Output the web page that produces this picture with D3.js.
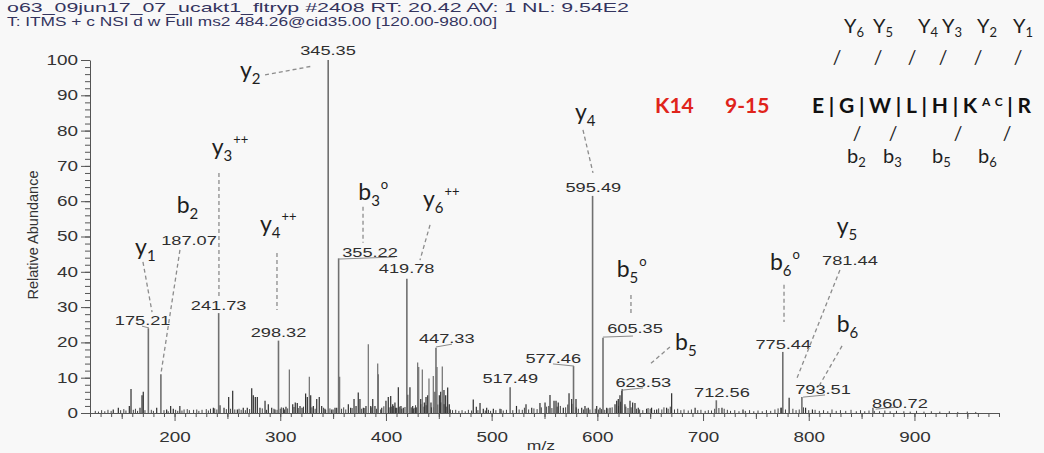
<!DOCTYPE html>
<html>
<head>
<meta charset="utf-8">
<script src="https://cdn.jsdelivr.net/npm/d3@7"></script>
<style>
  body { margin: 0; background: #f8f8f8; }
  svg { display: block; }
</style>
</head>
<body>
<div id="chart"></div>
<script>
// header lines of the scan
var headerLines = [
    "o63_09jun17_07_ucakt1_fltryp #2408   RT: 20.42   AV: 1   NL: 9.54E2",
    "T: ITMS + c NSI d w Full ms2 484.26@cid35.00 [120.00-980.00]"
];

var xTicks = [200, 300, 400, 500, 600, 700, 800, 900];
var yTicks = [0, 10, 20, 30, 40, 50, 60, 70, 80, 90, 100];

// labelled peaks [m/z, relative abundance]
var labeledPeaks = [[175.21, 24], [187.07, 11], [241.73, 28.3], [298.32, 20.5], [345.35, 100],
    [355.22, 43.8], [419.78, 38], [447.33, 18.5], [517.49, 7.3], [577.46, 13.3], [595.49, 61.5],
    [605.35, 21.3], [623.53, 6.8], [712.56, 3.6], [775.44, 17.3], [793.51, 4.5], [860.72, 1.5]];

// unlabelled peaks
var minorPeaks = [[142, 1], [146.8, 1.5], [157.2, 2], [158.8, 6.8], [167.3, 1.5], [169.2, 5], [170.4, 6],
    [183.1, 1.5], [192.5, 1], [196.3, 2], [198.8, 1.2], [205, 2], [236.7, 1.5], [243, 2.2], [246.8, 1.5],
    [251.2, 4.5], [255, 6.3], [259.4, 1], [265, 1.5], [268.8, 1.5], [273, 7], [274.5, 5], [276.4, 4.5],
    [278.3, 4.5], [280.8, 1.5], [285.6, 3.5], [288.7, 2.5], [291.9, 1.5], [295, 1], [302.9, 1.5],
    [305.4, 1.8], [308.6, 12.3], [311.8, 2.5], [314.2, 3], [316.1, 2.8], [318.7, 2], [320.6, 1.5],
    [324, 5.5], [325.6, 4.5], [327.5, 10.3], [328.8, 5], [331.3, 2], [334.5, 4], [336.9, 4.5], [339.2, 2],
    [342.3, 1.2], [348.7, 1], [351.8, 1.5], [353.4, 1.5], [356.2, 10.3], [364.4, 2.5], [366.6, 1.5],
    [369.8, 4], [371.7, 2], [373.8, 5.8], [375.4, 4], [378.6, 1.5], [381.1, 2], [383.3, 19.5], [385.6, 2],
    [387.5, 4], [389.6, 2], [392.2, 14], [392.8, 11], [396, 1.5], [400, 3.5], [402.2, 4.5], [404.5, 4.8],
    [406.4, 2.5], [408.5, 3], [410.2, 1.5], [411.7, 7.3], [414.2, 2], [416.4, 1.5], [420.6, 5.2],
    [422.7, 7.3], [425.3, 2], [427.5, 1.5], [430, 14.3], [431, 13], [432.9, 4], [434.4, 12.3], [436.3, 3],
    [437.9, 4.5], [439.5, 5], [440.7, 9.8], [442.6, 3], [444.8, 10.5], [446.4, 6], [448.3, 13], [450.5, 5],
    [451.8, 6], [453.3, 13.2], [454.9, 6.5], [456.5, 5], [458.4, 7.2], [459.9, 2.5], [482.6, 3.8],
    [485.5, 1.8], [489, 2.8], [492.1, 1.2], [495.3, 1.5], [501.6, 1.2], [507.9, 1.2], [523.5, 2],
    [532.5, 2.5], [537.9, 1.5], [545.7, 2.8], [550.5, 3], [555.2, 5.1], [559, 3.5], [560.9, 3.5], [563, 3],
    [567.8, 1.5], [573.2, 5.6], [575.7, 4], [579.8, 4], [585.2, 1.5], [588.3, 2], [591.4, 1.5], [599.4, 2],
    [602.5, 1.5], [608.8, 1.5], [612, 1.5], [616.7, 2.5], [618.3, 3.5], [619.8, 4], [621.4, 5], [623, 6.3],
    [626.1, 2.5], [630.9, 3.5], [633.4, 3], [635.6, 2.8], [638.7, 1.5], [646.6, 1.2], [651.3, 1.5],
    [656.1, 1], [665.5, 1.5], [670.3, 5.6], [692.5, 1.5], [717.9, 1.5], [737.8, 1], [773.7, 1.5],
    [781.44, 4.3], [797, 1.5], [803.5, 1]];

// baseline noise
var noisePeaks = [[125, .6], [128, .4], [131, .8], [134, .5], [137, .9], [140, .6], [149, .8], [152, 1.1],
    [154, .7], [161, .9], [163, 1.2], [165, .6], [172, .8], [178, .9], [180, .6], [190, .8], [194, .5],
    [201, .9], [203, .6], [207, .7], [209, 1], [212, 1.1], [214, .8], [218, .9], [221, 1], [223, .6],
    [226, .9], [230, 1.1], [232, .7], [234, 1.2], [238, 1.3], [240, 1], [249, 1.1], [253, 1.2], [257, 1],
    [261, 1.2], [263, .9], [267, .8], [271, 1.1], [283, 1.3], [287, .9], [294, 1.2], [297, .9], [300, 1.2],
    [301, 1.6], [304, 1], [307, 1.3], [313, 1.7], [317, 1.4], [322, 1.8], [330, 1.6], [333, 1.2],
    [341, 1.5], [343, .9], [347, 1.3], [350, 1], [358, 1.2], [360, 1.6], [362, 1], [368, 1.4], [377, 1.2],
    [380, 1.4], [386, 1.6], [391, 1.2], [395, 1], [398, 1.9], [403, 1.6], [405, 1.8], [407, 2], [409, 1.5],
    [413, 1.8], [415, 1.2], [418, 1.7], [424, 1.6], [426, 1.3], [428, 2.2], [429, 1.6], [433, 2.5],
    [436, 1.8], [438, 2.2], [443, 1.6], [445, 1.6], [449, 2.4], [452, 3], [455, 2.5], [457, 1.8], [461, 1],
    [463, .8], [466, .9], [469, .6], [472, .8], [475, .5], [478, .9], [481, .7], [487, .8], [494, .7],
    [497, .9], [499, .6], [504, .8], [509, 1.1], [511, .7], [514, .9], [520, .8], [526, 1], [529, .9],
    [531, 1.5], [535, 1], [540, 1.3], [543, 1.1], [547, 1.6], [552, 1.8], [554, 2], [557, 1.4], [562, 1.8],
    [565, 2], [570, 1.6], [572, 2.4], [576, 2.6], [580, 1.6], [582, 1.2], [587, 1], [590, 1.3], [593, 1],
    [598, 1.2], [601, 1], [604, 1.1], [607, .9], [610, 1.3], [614, 1.6], [620, 2], [622, 3.2], [627, 1.8],
    [629, 1.4], [632, 1.6], [637, 1.2], [640, 1], [643, .8], [648, 1.4], [650, 1.2], [654, .9], [658, 1.3],
    [661, 1], [663, 1.6], [667, 1.2], [669, 1.8], [673, 1], [676, 1.2], [679, .8], [682, 1], [686, .7],
    [689, 1], [695, .8], [698, .9], [702, .6], [705, .8], [708, .7], [711, 1.2], [715, 1.4], [720, 1.2],
    [723, .9], [726, .6], [730, .8], [734, .5], [740, .6], [744, .8], [748, .5], [752, .7], [756, .5],
    [760, .8], [764, .6], [768, 1], [771, 1.3], [774, 1.5], [778, 1], [785, 1.2], [788, .8], [791, 1],
    [795, 1.6], [800, .8], [806, .9], [810, .6], [814, .8], [818, .5], [822, 1], [826, .6], [830, .8],
    [835, .6], [840, .9], [845, .5], [849, .8], [853, .5], [857, .7], [862, .6], [867, .5], [872, .7],
    [877, .5], [883, .6], [890, .5], [896, .4], [902, .6], [909, .4], [916, .5], [924, .4], [933, .5],
    [941, .3], [950, .4], [958, .3]];

// mass labels: text, m/z and abundance of the text baseline
var massLabels = [["175.21", 169.8, 24.9], ["187.07", 213.7, 47.6], ["241.73", 241.73, 29.2],
    ["298.32", 298.32, 21.5], ["345.35", 345.2, 101.4], ["355.22", 384.9, 44.3], ["419.78", 419.6, 39.6],
    ["447.33", 457.5, 19.7], ["517.49", 517.6, 8.4], ["577.46", 558.3, 14.1], ["595.49", 596.2, 62.7],
    ["605.35", 635.6, 22.7], ["623.53", 643.5, 7.5], ["712.56", 717.9, 4.6], ["775.44", 775.9, 18.0],
    ["781.44", 839.0, 41.9], ["793.51", 813.5, 5.4], ["860.72", 886.3, 1.4]];

// short solid leaders from peak top to an offset label [mz1, ab1, mz2, ab2]
var leaders = [[175.8, 24.1, 169.2, 24.6], [355.2, 43.6, 408.6, 44.2], [447.3, 18.7, 462.5, 19.5],
    [577.9, 13.3, 558.0, 13.9], [605.3, 21.5, 633.7, 21.8], [624.3, 6.5, 643.2, 7.1],
    [794.6, 4.5, 815.4, 5.1], [863.3, 1.1, 884.1, 1.7]];

// fragment ion labels: letter, subscript, superscript, left m/z, baseline abundance
var ionLabels = [["y", "1", "", 162.6, 44.8], ["b", "2", "", 202.0, 56.7], ["y", "3", "++", 235.1, 73.1],
    ["y", "4", "++", 280.8, 51.3], ["y", "2", "", 261.9, 94.9], ["b", "3", "o", 373.8, 60.3],
    ["y", "6", "++", 435.0, 58.4], ["y", "4", "", 578.8, 83.0], ["b", "5", "o", 618.3, 38.5],
    ["b", "5", "", 673.5, 17.8], ["b", "6", "o", 763.3, 40.5], ["y", "5", "", 826.4, 50.7],
    ["b", "6", "", 826.4, 22.9]];

// dashed links from ion labels [mz1, ab1, mz2, ab2]
var ionLinks = [[285.6, 95.8, 331.0, 98.3], [170.1, 42.8, 178.7, 28.6], [205.1, 46.2, 187.2, 11.3],
    [242.0, 68.0, 242.0, 32.9], [296.9, 45.3, 296.9, 29.2], [378.3, 58.4, 378.3, 48.2],
    [441.7, 53.3, 432.2, 43.3], [586.4, 80.2, 595.9, 68.0], [631.8, 33.4, 631.8, 28.3],
    [668.7, 18.7, 648.8, 13.6], [776.6, 36.3, 776.6, 25.8], [829.5, 40.5, 788.9, 9.9],
    [831.5, 19.0, 808.7, 7.1]];

var width = 1044, height = 453;
var sx = 1.35; // the spectrum text is stretched sideways in the picture

var svg = d3.select("#chart").append("svg")
    .attr("width", width)
    .attr("height", height);

var scalex = d3.scaleLinear().domain([120, 980]).range([90, 999]);
var scaley = d3.scaleLinear().domain([0, 100]).range([413, 60]);

// header
headerLines.forEach(function (t, i) {
    svg.append("text")
        .attr("x", 7).attr("y", 12 + i * 14)
        .attr("textLength", i == 0 ? 622 : 490)
        .attr("lengthAdjust", "spacingAndGlyphs")
        .style("font-family", "Liberation Sans, Arial, sans-serif")
        .style("font-size", "13px")
        .style("fill", "#34345e")
        .text(t);
});

// axes
var axisColor = "#555";
var xAxis = svg.append("g")
    .attr("transform", "translate(0," + scaley(0) + ")")
    .call(d3.axisBottom(scalex).tickValues(xTicks).tickSize(8).tickSizeOuter(0).tickPadding(11));
var xMinor = svg.append("g")
    .attr("transform", "translate(0," + scaley(0) + ")")
    .call(d3.axisBottom(scalex).tickValues(d3.range(120, 981, 10)).tickSize(4).tickFormat(""));
var xMid = svg.append("g")
    .attr("transform", "translate(0," + scaley(0) + ")")
    .call(d3.axisBottom(scalex).tickValues(d3.range(150, 951, 100)).tickSize(6).tickFormat(""));
var yAxis = svg.append("g")
    .attr("transform", "translate(" + scalex(120) + ",0)")
    .call(d3.axisLeft(scaley).tickValues(yTicks).tickSize(9).tickSizeOuter(0));
var yMinor = svg.append("g")
    .attr("transform", "translate(" + scalex(120) + ",0)")
    .call(d3.axisLeft(scaley).tickValues(d3.range(0, 101, 2)).tickSize(5).tickFormat(""));

[xMinor, xMid, yMinor].forEach(function (a) { a.select(".domain").remove(); });
[xAxis, xMinor, xMid, yAxis, yMinor].forEach(function (a) {
    a.selectAll("line").attr("stroke", axisColor);
    a.selectAll("path").attr("stroke", axisColor);
});
xAxis.selectAll("text")
    .attr("transform", "scale(" + sx + ",1)")
    .style("font-family", "Liberation Sans, Arial, sans-serif")
    .style("font-size", "14px")
    .style("fill", "#333");
yAxis.selectAll("text")
    .attr("x", -12 / sx)
    .attr("transform", "scale(" + sx + ",1)")
    .style("font-family", "Liberation Sans, Arial, sans-serif")
    .style("font-size", "14px")
    .style("fill", "#333");

// axis titles
svg.append("g").attr("transform", "translate(541,450) scale(" + sx + ",1)")
    .append("text").attr("text-anchor", "middle")
    .style("font-family", "Liberation Sans, Arial, sans-serif").style("font-size", "13px").style("fill", "#333")
    .text("m/z");
svg.append("text")
    .attr("transform", "translate(38,235) rotate(-90)")
    .attr("text-anchor", "middle")
    .style("font-family", "Liberation Sans, Arial, sans-serif").style("font-size", "14.5px").style("fill", "#333")
    .text("Relative Abundance");

// peaks
function drawPeaks(data, color, w) {
    svg.append("g").selectAll("line")
        .data(data).enter().append("line")
        .attr("x1", function (d) { return scalex(d[0]); })
        .attr("x2", function (d) { return scalex(d[0]); })
        .attr("y1", scaley(0))
        .attr("y2", function (d) { return scaley(d[1]); })
        .attr("stroke", typeof color == "function" ? color : function () { return color; })
        .attr("stroke-width", w);
}
drawPeaks(noisePeaks, "#444", 1);
drawPeaks(minorPeaks, function (d) { return d[1] >= 9 ? "#6e6e6e" : "#2e2e2e"; }, 1.2);
drawPeaks(labeledPeaks, "#707070", 1.6);

// solid leaders
svg.append("g").selectAll("line")
    .data(leaders).enter().append("line")
    .attr("x1", function (d) { return scalex(d[0]); })
    .attr("y1", function (d) { return scaley(d[1]); })
    .attr("x2", function (d) { return scalex(d[2]); })
    .attr("y2", function (d) { return scaley(d[3]); })
    .attr("stroke", "#8a8a8a").attr("stroke-width", 1);

// mass labels
svg.append("g").selectAll("g")
    .data(massLabels).enter().append("g")
    .attr("transform", function (d) {
        return "translate(" + scalex(d[1]) + "," + scaley(d[2]) + ") scale(" + sx + ",1)";
    })
    .append("text")
    .attr("text-anchor", "middle")
    .style("font-family", "Liberation Sans, Arial, sans-serif")
    .style("font-size", "13.5px")
    .style("fill", "#2f2f2f")
    .text(function (d) { return d[0]; });

// dashed ion links
svg.append("g").selectAll("line")
    .data(ionLinks).enter().append("line")
    .attr("x1", function (d) { return scalex(d[0]); })
    .attr("y1", function (d) { return scaley(d[1]); })
    .attr("x2", function (d) { return scalex(d[2]); })
    .attr("y2", function (d) { return scaley(d[3]); })
    .attr("stroke", "#8c8c8c").attr("stroke-width", 1.3)
    .attr("stroke-dasharray", "4,3");

// ion labels
var ions = svg.append("g").selectAll("text")
    .data(ionLabels).enter().append("text")
    .attr("x", function (d) { return scalex(d[3]); })
    .attr("y", function (d) { return scaley(d[4]); })
    .style("font-family", "Lato, 'Open Sans', sans-serif")
    .style("fill", "#1e1e1e");
ions.append("tspan").style("font-size", "23px").text(function (d) { return d[0]; });
ions.append("tspan").style("font-size", "15px").attr("dy", 6).text(function (d) { return d[1]; });
ions.append("tspan").style("font-size", "13px").attr("dy", -17).attr("dx", 1)
    .text(function (d) { return d[2]; });

// peptide sequence panel
var panelFont = "Lato, 'Open Sans', sans-serif";
var yIons = [["6", 844], ["5", 873], ["4", 918], ["3", 942], ["2", 977], ["1", 1013]];
var bIons = [["2", 847], ["3", 883], ["5", 932], ["6", 978]];
var topSlashes = [837, 878, 912, 943, 978, 1018];
var bottomSlashes = [857, 893, 958, 1007];

yIons.forEach(function (d) {
    var t = svg.append("text").attr("x", d[1]).attr("y", 33)
        .style("font-family", panelFont).style("fill", "#1e1e1e");
    t.append("tspan").style("font-size", "20px").text("Y");
    t.append("tspan").style("font-size", "13px").attr("dy", 4).text(d[0]);
});
bIons.forEach(function (d) {
    var t = svg.append("text").attr("x", d[1]).attr("y", 163)
        .style("font-family", panelFont).style("fill", "#1e1e1e");
    t.append("tspan").style("font-size", "20px").text("b");
    t.append("tspan").style("font-size", "13px").attr("dy", 4).text(d[0]);
});
topSlashes.forEach(function (xp) {
    svg.append("text").attr("x", xp).attr("y", 64).attr("text-anchor", "middle")
        .style("font-family", panelFont).style("font-size", "19px").style("fill", "#1e1e1e").text("/");
});
bottomSlashes.forEach(function (xp) {
    svg.append("text").attr("x", xp).attr("y", 140).attr("text-anchor", "middle")
        .style("font-family", panelFont).style("font-size", "19px").style("fill", "#1e1e1e").text("/");
});

svg.append("text").attr("x", 655).attr("y", 113)
    .style("font-family", panelFont).style("font-size", "21px").style("font-weight", "bold")
    .style("fill", "#e0241b").text("K14");
svg.append("text").attr("x", 725).attr("y", 113)
    .style("font-family", panelFont).style("font-size", "21px").style("font-weight", "bold")
    .style("fill", "#e0241b").text("9-15");

var seq = svg.append("text").attr("x", 812).attr("y", 113)
    .attr("textLength", 219).attr("lengthAdjust", "spacing")
    .style("font-family", panelFont).style("font-size", "21px").style("font-weight", "bold")
    .style("fill", "#111");
seq.append("tspan").text("E|G|W|L|H|K");
seq.append("tspan").attr("dy", -7).style("font-size", "12px").text("AC");
seq.append("tspan").attr("dy", 7).text("|R");
</script>
</body>
</html>
